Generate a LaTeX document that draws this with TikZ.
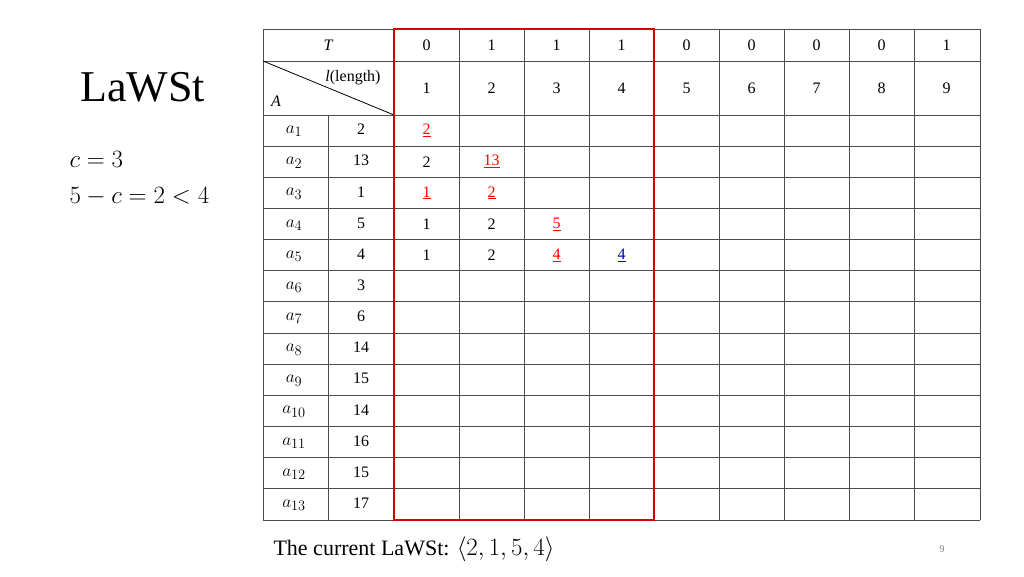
\documentclass[tikz,border=0pt]{standalone}
\usepackage{fontspec}
\setmainfont{Liberation Serif}
\begin{document}
\begin{tikzpicture}[x=1pt,y=-1pt,
  tb/.style={font=\fontsize{16}{18}\selectfont, inner sep=0pt},
  grid/.style={draw=black!70, line width=0.9pt}]
\useasboundingbox (0,0) rectangle (1024,576);
\fill[white] (0,0) rectangle (1024,576);
% horizontal lines
\foreach \y in {29,61,115} \draw[grid] (263,\y) -- (980,\y);
\foreach \k in {1,...,13} \draw[grid] (263,{115+31.15*\k}) -- (980,{115+31.15*\k});
% vertical lines
\foreach \x in {263,394,459,524,589,654,719,784,849,914,980} \draw[grid] (\x,29) -- (\x,520);
\draw[grid] (328,115) -- (328,520);
\draw[line width=0.8pt] (263,61) -- (394,115);
% headers
\node[tb] (T) at (328.5,45) {\textit{T}};
\node[tb] (len) at (353,78) {\textit{l}(length)};
\node[tb] (A) at (276,101) {\textit{A}};
\foreach \t [count=\j] in {0,1,1,1,0,0,0,0,1} {
  \node[tb] (t\j) at ({394+65*(\j-0.5)},45) {\t};
  \node[tb] (l\j) at ({394+65*(\j-0.5)},88) {\j};
}
% rows
\foreach \v [count=\i] in {2,13,1,5,4,3,6,14,15,14,16,15,17} {
  \node[tb,font=\fontsize{19}{21}\selectfont] (a\i) at (294,{115+31.15*(\i-0.5)+1}) {$a_{\i}$};
  \node[tb] (v\i) at (361,{115+31.15*(\i-0.5)-1}) {\v};
}
\def\cy#1{{115+31.15*(#1-0.5)}}
\def\cx#1{{394+65*(#1-0.5)}}
\node[tb,red] (c11) at (\cx1,\cy1) {\underline{2}};
\node[tb] (c21) at (\cx1,\cy2) {2};
\node[tb,red] (c22) at (\cx2,\cy2) {\underline{13}};
\node[tb,red] (c31) at (\cx1,\cy3) {\underline{1}};
\node[tb,red] (c32) at (\cx2,\cy3) {\underline{2}};
\node[tb] (c41) at (\cx1,\cy4) {1};
\node[tb] (c42) at (\cx2,\cy4) {2};
\node[tb,red] (c43) at (\cx3,\cy4) {\underline{5}};
\node[tb] (c51) at (\cx1,\cy5) {1};
\node[tb] (c52) at (\cx2,\cy5) {2};
\node[tb,red] (c53) at (\cx3,\cy5) {\underline{4}};
\node[tb,blue!70!black] (c54) at (\cx4,\cy5) {\underline{4}};
% red frame
\draw[red!85!black, line width=2.2pt] (394,29) rectangle (654,520);
% left texts
\node[font=\fontsize{44}{48}\selectfont, anchor=west] (title) at (77,87) {LaWSt};
\node[font=\fontsize{23}{26}\selectfont, anchor=west] (c) at (66,159) {$c=3$};
\node[font=\fontsize{23}{26}\selectfont, anchor=west] (cc) at (66,197) {$5-c=2<4$};
\node[font=\fontsize{22}{26}\selectfont, anchor=west] (cur) at (270,549) {The current LaWSt: {\fontsize{24}{26}\selectfont$\langle 2,1,5,4\rangle$}};
\node[font=\fontsize{10}{12}\selectfont, text=black!50] (pg) at (942,549) {9};
\end{tikzpicture}
\end{document}
